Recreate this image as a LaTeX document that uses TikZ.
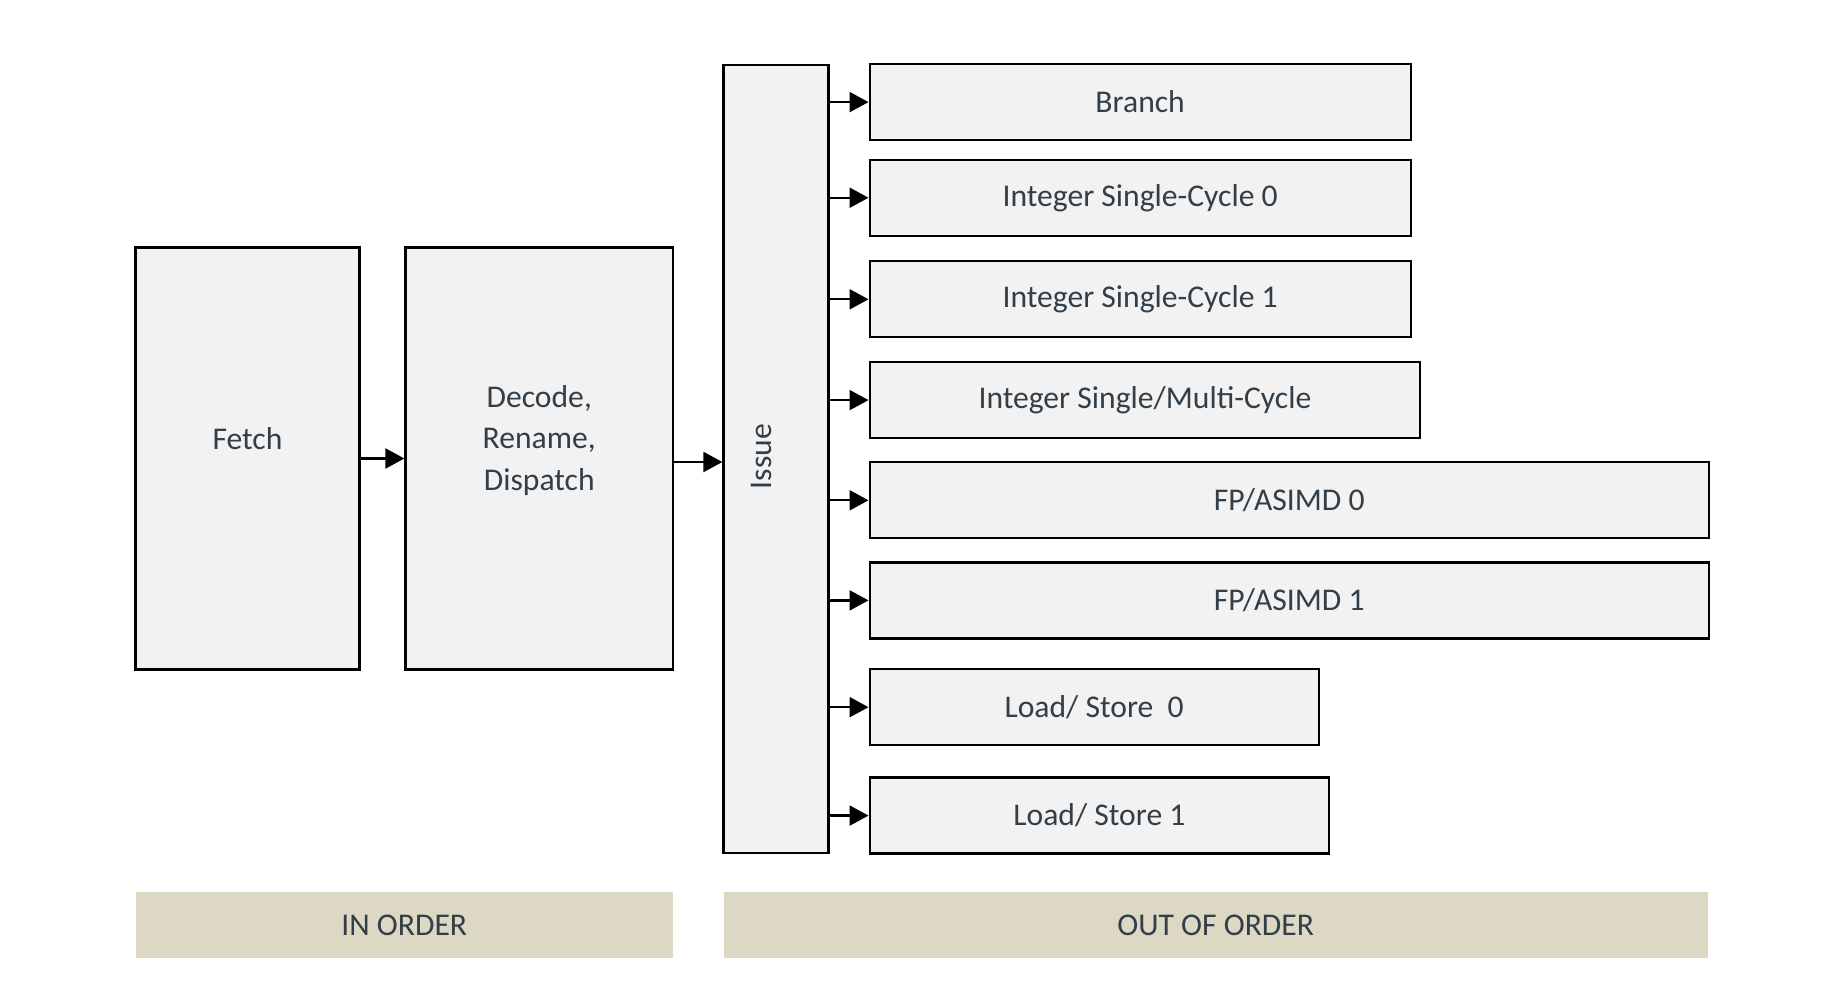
\documentclass[tikz,border=0pt]{standalone}
\usepackage{fontspec}
\setmainfont{Carlito}
\usepackage{xcolor}
\usepackage{tikz}
\usetikzlibrary{positioning, arrows.meta}
\definecolor{pInk}{HTML}{333F48}
\definecolor{pFill}{HTML}{F2F2F2}
\definecolor{pBand}{HTML}{DDD8C4}

\begin{document}
\begin{tikzpicture}[>={Triangle[length=0.38cm,width=0.4cm]},
          stage/.style={draw=black, line width=1.3pt, fill=pFill, text=pInk,
            font=\fontsize{18}{23.8}\selectfont, align=center, inner sep=0pt},
          unit/.style={stage, anchor=west, minimum height=1.52cm},
          lbl/.style={text=pInk, font=\fontsize{18}{23.8}\selectfont, align=center},
          band/.style={fill=pBand, text=pInk, font=\fontsize{18}{22}\selectfont,
            minimum height=1.32cm, inner sep=0pt}]
        \useasboundingbox (0,0) rectangle (36.96,19.92);
        % in-order front end
        \node[stage, minimum width=4.48cm, minimum height=8.44cm] (fetch) at (4.95,10.75) {};
        \node[lbl] (fetchtxt) at ([yshift=0.4cm]fetch.center) {Fetch};
        \node[stage, minimum width=5.35cm, minimum height=8.44cm] (decode) at (10.785,10.75) {};
        \node[lbl] (decodetxt) at ([yshift=0.36cm]decode.center) {Decode,\\Rename,\\Dispatch};
        \node[stage, minimum width=2.1cm, minimum height=15.77cm] (issue) at (15.52,10.74) {};
        \node[lbl, rotate=90] (issuetxt) at ([xshift=-0.3cm,yshift=0.05cm]issue.center) {Issue};
        % execution units
        \node[unit, minimum width=10.82cm] (br) at (17.37,17.878) {Branch};
        \node[unit, minimum width=10.82cm] (sc0) at (17.37,15.965) {Integer Single-Cycle 0};
        \node[unit, minimum width=10.82cm] (sc1) at (17.37,13.934) {Integer Single-Cycle 1};
        \node[unit, minimum width=11.01cm] (mc) at (17.37,11.918) {Integer Single/Multi-Cycle};
        \node[unit, minimum width=16.78cm] (fp0) at (17.37,9.914) {FP/ASIMD 0};
        \node[unit, minimum width=16.78cm] (fp1) at (17.37,7.912) {FP/ASIMD 1};
        \node[unit, minimum width=8.98cm] (ls0) at (17.37,5.776) {Load/ Store~~0};
        \node[unit, minimum width=9.19cm] (ls1) at (17.37,3.608) {Load/ Store 1};
        % order bands
        \node[band, minimum width=10.75cm] (inord) at (8.085,1.42) {IN ORDER};
        \node[band, minimum width=19.68cm] (outord) at (24.314,1.42) {OUT OF ORDER};
        \draw[->, line width=1.3pt] (fetch) -- (decode);
        \draw[->, line width=1.3pt] ([yshift=-0.07cm]decode.east) -- ([yshift=-0.07cm]decode.east -| issue.west);
        \foreach \u in {br,sc0,sc1,mc,fp0,fp1,ls0,ls1}
          \draw[->, line width=1.3pt] (issue.east |- \u.west) -- (\u.west);
      \end{tikzpicture}
\end{document}
